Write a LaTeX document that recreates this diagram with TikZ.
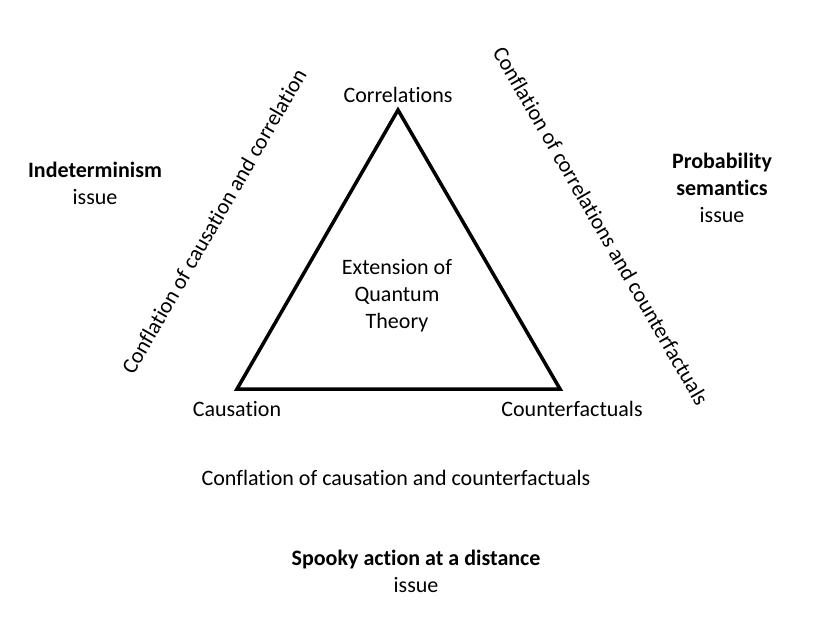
\documentclass[tikz,border=0pt]{standalone}
\usepackage{fontspec}
\setmainfont{Carlito}[Ligatures=NoCommon]
\begin{document}
\begin{tikzpicture}[x=1pt,y=-1pt,
  lbl/.style={font=\fontsize{22}{27}\selectfont, inner sep=0pt, align=center},
  tri/.style={line width=3.5pt, line join=miter}]
\useasboundingbox (0,0) rectangle (817,618);
\coordinate (T) at (398,110);
\coordinate (L) at (237,389);
\coordinate (R) at (560,389);
\draw[tri] (T) -- (L) -- (R) -- cycle;
\node[lbl] (corr) at (398,95) {Correlations};
\node[lbl] (caus) at (237,409) {Causation};
\node[lbl] (cf) at (572,409) {Counterfactuals};
\node[lbl] (ext) at (397,296) {Extension of\\Quantum\\Theory};
\node[lbl, rotate=60] (cl) at (214,221) {Conflation of causation and correlation};
\node[lbl, rotate=-60] (cr) at (601,226) {Conflation of correlations and counterfactuals};
\node[lbl] (cb) at (396,478) {Conflation of causation and counterfactuals};
\node[lbl] (ind) at (95,183) {\textbf{Indeterminism}\\issue};
\node[lbl] (prob) at (722,188) {\textbf{Probability}\\\textbf{semantics}\\issue};
\node[lbl] (spk) at (416,571) {\textbf{Spooky action at a distance}\\issue};
\end{tikzpicture}
\end{document}
